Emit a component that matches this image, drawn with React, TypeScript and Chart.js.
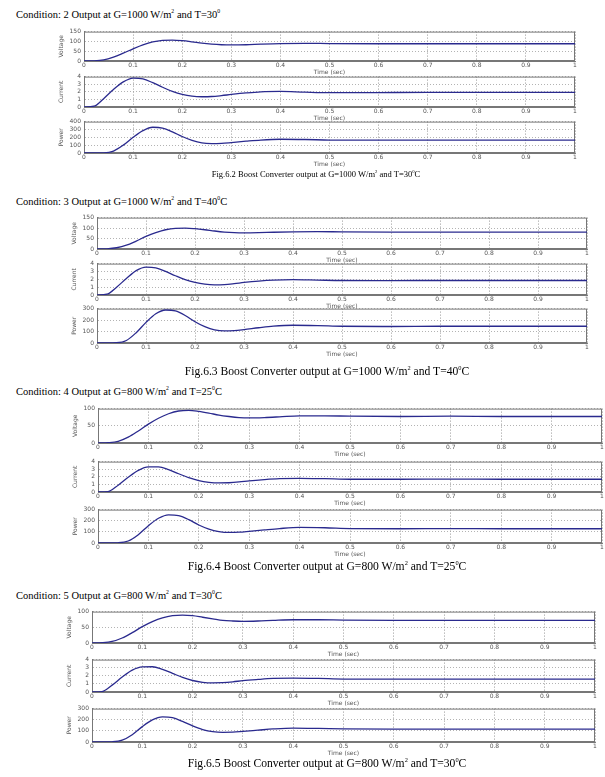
import React, { useEffect, useRef } from 'react';
import { Chart, registerables } from 'chart.js';
Chart.register(...registerables);

// ---------- data ----------
const TIME = [0, 0.02, 0.04, 0.06, 0.08, 0.1, 0.12, 0.14, 0.16, 0.18, 0.2, 0.22, 0.24, 0.26, 0.28, 0.3, 0.33, 0.36, 0.4, 0.45, 0.5, 0.6, 0.7, 0.8, 0.9, 1.0];
const TIME_TICKS = [0, 0.1, 0.2, 0.3, 0.4, 0.5, 0.6, 0.7, 0.8, 0.9, 1];
const TIME_TICK_LABELS = ['0', '0.1', '0.2', '0.3', '0.4', '0.5', '0.6', '0.7', '0.8', '0.9', '1'];

const C2_VOLTAGE = [0, 1, 6, 20, 40, 62, 82, 97, 105, 107, 104, 98, 91, 86, 83, 82, 83, 86, 89, 90, 89, 88, 88, 88, 88, 88];
const C2_CURRENT = [0, 0.1, 1.1, 2.3, 3.3, 3.8, 3.7, 3.2, 2.6, 2.05, 1.65, 1.42, 1.35, 1.38, 1.5, 1.65, 1.85, 2.0, 2.05, 1.95, 1.88, 1.9, 1.92, 1.92, 1.92, 1.92];
const C2_POWER = [0, 0, 2, 25, 100, 200, 285, 328, 318, 270, 210, 160, 128, 120, 123, 133, 150, 165, 175, 172, 165, 163, 165, 165, 165, 165];

const C3_VOLTAGE = [0, 1, 6, 18, 38, 60, 78, 92, 99, 100, 97, 92, 86, 81, 78, 77, 78, 80, 82, 83, 82, 81, 81, 81, 81, 81];
const C3_CURRENT = [0, 0.1, 1.0, 2.1, 3.1, 3.55, 3.45, 3.0, 2.45, 1.95, 1.6, 1.38, 1.3, 1.33, 1.45, 1.6, 1.78, 1.9, 1.95, 1.9, 1.85, 1.84, 1.85, 1.85, 1.85, 1.85];
const C3_POWER = [0, 0, 2, 22, 90, 180, 255, 288, 280, 240, 185, 142, 114, 105, 108, 117, 133, 147, 155, 152, 146, 144, 146, 146, 146, 146];

const C4_VOLTAGE = [0, 1, 5, 17, 35, 55, 72, 85, 93, 95, 92, 87, 81, 77, 74, 73, 74, 76, 79, 79, 78, 77, 78, 77, 77, 77];
const C4_CURRENT = [0, 0.05, 0.9, 1.95, 2.85, 3.3, 3.3, 2.95, 2.4, 1.9, 1.5, 1.28, 1.2, 1.22, 1.32, 1.47, 1.63, 1.75, 1.8, 1.75, 1.68, 1.68, 1.7, 1.68, 1.68, 1.68];
const C4_POWER = [0, 0, 2, 18, 75, 155, 222, 253, 245, 210, 162, 125, 103, 95, 97, 105, 118, 130, 140, 137, 130, 128, 130, 128, 128, 128];

const C5_VOLTAGE = [0, 1, 5, 16, 33, 52, 68, 80, 87, 89, 87, 82, 77, 72, 70, 69, 70, 72, 74, 74, 73, 72, 72, 72, 72, 72];
const C5_CURRENT = [0, 0.05, 0.85, 1.85, 2.7, 3.1, 3.12, 2.8, 2.3, 1.8, 1.42, 1.2, 1.13, 1.15, 1.25, 1.4, 1.55, 1.67, 1.72, 1.68, 1.6, 1.6, 1.6, 1.6, 1.6, 1.6];
const C5_POWER = [0, 0, 2, 16, 65, 138, 198, 225, 218, 185, 145, 112, 93, 87, 88, 95, 106, 117, 125, 122, 117, 115, 116, 115, 115, 115];

const HEADERS = [
  ['Condition: 2 Output at G=1000 W/m', '2', ' and T=30', '0', ''],
  ['Condition: 3 Output at G=1000 W/m', '2', ' and T=40', '0', 'C'],
  ['Condition: 4 Output at G=800 W/m', '2', ' and T=25', '0', 'C'],
  ['Condition: 5 Output at G=800 W/m', '2', ' and T=30', '0', 'C'],
];
const CAPTIONS = [
  ['Fig.6.2 Boost Converter output at G=1000 W/m', '2', ' and T=30', '0', 'C'],
  ['Fig.6.3 Boost Converter output at G=1000 W/m', '2', ' and T=40', '0', 'C'],
  ['Fig.6.4 Boost Converter output at G=800 W/m', '2', ' and T=25', '0', 'C'],
  ['Fig.6.5 Boost Converter output at G=800 W/m', '2', ' and T=30', '0', 'C'],
];
const X_TITLE = 'Time (sec)';

// ---------- layout ----------
const Y_AXIS_W = 26;
const PAD_TOP = 4;
const PAD_RIGHT = 6;
const X_AXIS_H = 15;
const TICK_FONT = { family: 'DejaVu Sans', size: 6 };
const LINE_COLOR = '#2a2a8e';

type PanelProps = {
  left: number; right: number; top: number; bottom: number;
  yMax: number; yStep: number; yTitle: string; values: number[];
};

function Panel(p: PanelProps) {
  const ref = useRef<HTMLCanvasElement>(null);
  useEffect(() => {
    if (!ref.current) return;
    const chart = new Chart(ref.current, {
      type: 'line',
      data: {
        datasets: [{
          data: TIME.map((t, i) => ({ x: t, y: p.values[i] })),
          borderColor: LINE_COLOR,
          borderWidth: 1.3,
          pointRadius: 0,
          cubicInterpolationMode: 'monotone',
          fill: false,
        }],
      },
      options: {
        animation: false,
        responsive: false,
        maintainAspectRatio: false,
        events: [],
        layout: { padding: { top: PAD_TOP, right: PAD_RIGHT, left: 0, bottom: 0 } },
        plugins: { legend: { display: false }, tooltip: { enabled: false } },
        scales: {
          x: {
            type: 'linear', min: 0, max: 1,
            afterBuildTicks: (s: any) => { s.ticks = TIME_TICKS.map((v) => ({ value: v })); },
            afterFit: (s: any) => { s.height = X_AXIS_H; },
            ticks: {
              font: TICK_FONT, color: '#555', padding: 1, maxRotation: 0, autoSkip: false,
              callback: (v: any) => TIME_TICK_LABELS[TIME_TICKS.findIndex((t) => Math.abs(t - v) < 1e-6)] ?? '',
            },
            grid: { color: '#8a8a8a', lineWidth: 0.9, drawTicks: false },
            border: { color: '#777', width: 1, dash: [1, 2] },
            title: { display: true, text: X_TITLE, font: TICK_FONT, color: '#555', padding: { top: 0, bottom: 0 } },
          },
          y: {
            min: 0, max: p.yMax,
            afterFit: (s: any) => { s.width = Y_AXIS_W; },
            ticks: { stepSize: p.yStep, font: TICK_FONT, color: '#555', padding: 3, autoSkip: false },
            grid: { color: '#a0a0a0', lineWidth: 0.8, drawTicks: false },
            border: { color: '#777', width: 1, dash: [1, 2] },
            title: { display: true, text: p.yTitle, font: TICK_FONT, color: '#555', padding: { top: 0, bottom: 0 } },
          },
        },
      },
      plugins: [{
        id: 'frame',
        beforeDatasetsDraw(c: any) {
          const { ctx, chartArea: a } = c;
          ctx.save();
          ctx.strokeStyle = '#777';
          ctx.lineWidth = 1;
          ctx.setLineDash([]);
          ctx.strokeRect(a.left + 0.5, a.top + 0.5, a.right - a.left - 1, a.bottom - a.top - 1);
          ctx.restore();
        },
      }],
    } as any);
    return () => chart.destroy();
  }, []);
  const w = p.right - p.left + Y_AXIS_W + PAD_RIGHT;
  const h = p.bottom - p.top + PAD_TOP + X_AXIS_H;
  return (
    <canvas ref={ref} width={w} height={h}
      style={{ position: 'absolute', left: p.left - Y_AXIS_W, top: p.top - PAD_TOP, width: w, height: h }} />
  );
}

function RichText({ parts, style }: { parts: string[]; style: React.CSSProperties }) {
  return (
    <div style={{ position: 'absolute', fontFamily: 'Liberation Serif', color: '#000', whiteSpace: 'nowrap', lineHeight: '14px', ...style }}>
      {parts[0]}<sup style={{ fontSize: '0.55em' }}>{parts[1]}</sup>{parts[2]}<sup style={{ fontSize: '0.55em' }}>{parts[3]}</sup>{parts[4]}
    </div>
  );
}

const BLOCKS = [
  { left: 84, right: 575, rows: [[29, 61], [74, 107], [119, 153]], v: C2_VOLTAGE, c: C2_CURRENT, pw: C2_POWER, vMax: 150, vStep: 50, pMax: 400, head: 4, cap: 165, capX: 316, capSize: 8.5 },
  { left: 97, right: 587, rows: [[215, 249], [261, 295], [306, 343]], v: C3_VOLTAGE, c: C3_CURRENT, pw: C3_POWER, vMax: 150, vStep: 50, pMax: 300, head: 191, cap: 361, capX: 327, capSize: 11.6 },
  { left: 98, right: 602, rows: [[406, 443], [459, 492], [507, 543]], v: C4_VOLTAGE, c: C4_CURRENT, pw: C4_POWER, vMax: 100, vStep: 50, pMax: 300, head: 381, cap: 556, capX: 327, capSize: 11.6 },
  { left: 92, right: 595, rows: [[609, 643], [657, 692], [706, 742]], v: C5_VOLTAGE, c: C5_CURRENT, pw: C5_POWER, vMax: 100, vStep: 50, pMax: 300, head: 585, cap: 753, capX: 327, capSize: 11.6 },
];

export default function App() {
  return (
    <div style={{ position: 'absolute', left: 0, top: 0, width: 605, height: 777, background: '#fff', overflow: 'hidden' }}>
      {BLOCKS.map((b, i) => (
        <React.Fragment key={i}>
          <RichText parts={HEADERS[i]} style={{ left: 16, top: b.head, fontSize: 10.5 }} />
          <Panel left={b.left} right={b.right} top={b.rows[0][0]} bottom={b.rows[0][1]} yMax={b.vMax} yStep={b.vStep} yTitle="Voltage" values={b.v} />
          <Panel left={b.left} right={b.right} top={b.rows[1][0]} bottom={b.rows[1][1]} yMax={4} yStep={1} yTitle="Current" values={b.c} />
          <Panel left={b.left} right={b.right} top={b.rows[2][0]} bottom={b.rows[2][1]} yMax={b.pMax} yStep={100} yTitle="Power" values={b.pw} />
          <RichText parts={CAPTIONS[i]} style={{ left: b.capX - 200, width: 400, textAlign: 'center', top: b.cap, fontSize: b.capSize }} />
        </React.Fragment>
      ))}
    </div>
  );
}
